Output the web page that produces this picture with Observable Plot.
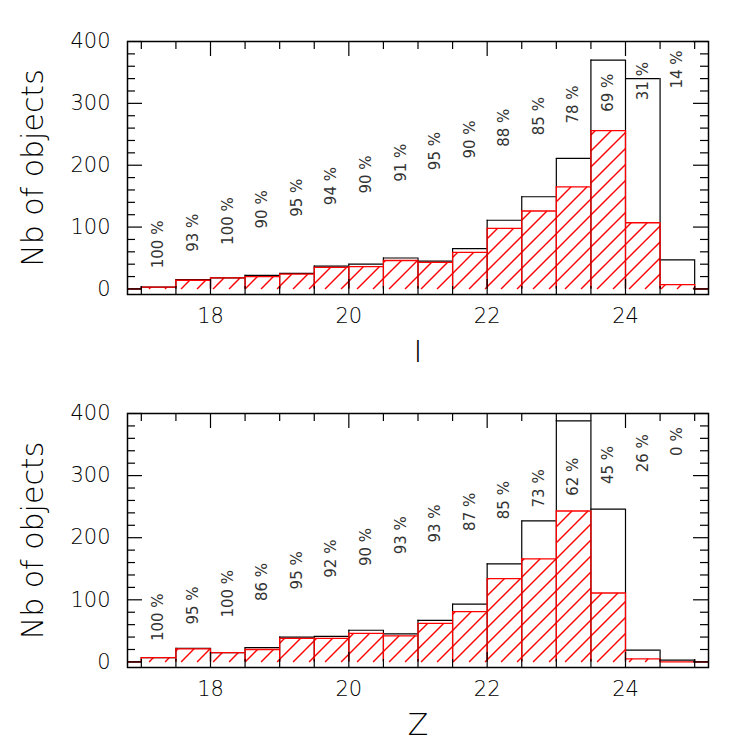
<!DOCTYPE html>
<html><head><meta charset="utf-8">
<script src="https://cdn.jsdelivr.net/npm/d3@7"></script>
<script src="https://cdn.jsdelivr.net/npm/@observablehq/plot@0.6"></script>
<style>
html,body{margin:0;padding:0;background:#fff;}
#chart{width:747px;}
#chart svg{display:block;overflow:visible}
</style></head><body>
<div id="chart"></div>
<script>
// ---- data ----
const binStart = [16.5,17,17.5,18,18.5,19,19.5,20,20.5,21,21.5,22,22.5,23,23.5,24,24.5,25];
const binWidth = 0.5;
const totalI = [0,3,15,18,22,25,37,40,50,45,65,111,149,211,370,340,47,0];
const redI   = [0,3,14,18,20,24,35,36,46,43,59,98,126,165,256,107,7,0];
const totalZ = [0,7,22,15,23,40,41,51,45,67,93,158,227,388,246,19,3,0];
const redZ   = [0,7,21,15,20,38,38,46,42,62,81,134,166,243,111,5,0,0];
const pctI = [100,93,100,90,95,94,90,91,95,90,88,85,78,69,31,14];
const pctZ = [100,95,100,86,95,92,90,93,93,87,85,73,62,45,26,0];
const xTicks = [18,20,22,24];
const xTickLabels = ["18","20","22","24"];
const yTicks = [0,100,200,300,400];
const yTickLabels = ["0","100","200","300","400"];
const yTitle = "Nb of objects";

// ---- layout ----
const W = 747, ML = 127, MR = 39;
const xDomain = [16.8, 25.2], yDomain = [-9, 400];
const FONT = "'DejaVu Sans', sans-serif";
const TXT = "#000";
const RED = "#ff0000";
const HATCH = 16;

function panel({total, red, pct, title, height, mt, mb}) {
  const plotW = W - ML - MR, plotH = height - mt - mb;
  const pxX = plotW / (xDomain[1] - xDomain[0]);
  const pxY = plotH / (yDomain[1] - yDomain[0]);
  const cx = v => Math.max(xDomain[0], Math.min(xDomain[1], v));
  const bins = binStart.map((lo, i) => ({lo, hi: lo + binWidth, total: total[i], sub: red[i]}));
  const edgesOf = key => {
    const out = [];
    for (let i = 0; i <= bins.length; i++) {
      const x = i < bins.length ? bins[i].lo : bins[i - 1].hi;
      if (x <= xDomain[0] || x >= xDomain[1]) continue;
      const a = i > 0 ? bins[i - 1][key] : 0, b = i < bins.length ? bins[i][key] : 0;
      out.push({x, top: Math.max(a, b)});
    }
    return out;
  };
  const hatch = [];
  for (const d of bins) {
    if (d.sub <= 0) continue;
    const u0 = (cx(d.lo) - xDomain[0]) * pxX, u1 = (cx(d.hi) - xDomain[0]) * pxX;
    const v0 = (0 - yDomain[0]) * pxY, v1 = (d.sub - yDomain[0]) * pxY;
    const kMin = Math.ceil((v0 - u1) / HATCH) * HATCH, kMax = Math.floor((v1 - u0) / HATCH) * HATCH;
    for (let k = kMin; k <= kMax; k += HATCH) {
      const a = Math.max(u0, v0 - k), b = Math.min(u1, v1 - k);
      if (b - a < 0.5) continue;
      hatch.push({
        x1: xDomain[0] + a / pxX, y1: yDomain[0] + (a + k) / pxY,
        x2: xDomain[0] + b / pxX, y2: yDomain[0] + (b + k) / pxY
      });
    }
  }
  const pctBins = binStart.filter(b => b >= 17 && b < 25);
  const labels = pctBins.map((b, i) => ({x: b + binWidth / 2, y: 72 + 37.7 * (b + binWidth / 2 - 17.25), t: `${pct[i]} %`}));
  const yMinor = d3.range(0, 401, 20).filter(v => v % 100 !== 0);
  const xMinor = d3.range(17, 25.01, 0.5).filter(v => !xTicks.includes(v));
  const majL = 15, minL = 8;
  const lx = majL / pxX, sx = minL / pxX, ly = majL / pxY, sy = minL / pxY;

  return Plot.plot({
    width: W, height, marginLeft: ML, marginRight: MR, marginTop: mt, marginBottom: mb,
    style: {fontFamily: FONT, background: "white", color: TXT},
    x: {domain: xDomain, axis: null},
    y: {domain: yDomain, axis: null},
    marks: [
      Plot.link(hatch, {x1: "x1", y1: "y1", x2: "x2", y2: "y2", stroke: RED, strokeWidth: 1.4}),
      Plot.ruleY(bins, {y: "total", x1: d => cx(d.lo), x2: d => cx(d.hi), stroke: "#000", strokeWidth: 1.2}),
      Plot.ruleX(edgesOf("total"), {x: "x", y1: 0, y2: "top", stroke: "#000", strokeWidth: 1.2}),
      Plot.ruleY(bins, {y: "sub", x1: d => cx(d.lo), x2: d => cx(d.hi), stroke: RED, strokeWidth: 1.3}),
      Plot.ruleX(edgesOf("sub"), {x: "x", y1: 0, y2: "top", stroke: RED, strokeWidth: 1.3}),
      Plot.text(labels, {x: "x", y: "y", text: "t", rotate: -90, fontSize: 15, fill: "#333", textAnchor: "middle", lineAnchor: "middle", letterSpacing: 0.8}),
      Plot.frame({stroke: "#000", strokeWidth: 1.5}),
      Plot.ruleY(yTicks, {y: d => d, x1: xDomain[0], x2: xDomain[0] + lx, stroke: "#000", strokeWidth: 1.2}),
      Plot.ruleY(yMinor, {y: d => d, x1: xDomain[0], x2: xDomain[0] + sx, stroke: "#000", strokeWidth: 1.2}),
      Plot.ruleY(yTicks, {y: d => d, x1: xDomain[1] - lx, x2: xDomain[1], stroke: "#000", strokeWidth: 1.2}),
      Plot.ruleY(yMinor, {y: d => d, x1: xDomain[1] - sx, x2: xDomain[1], stroke: "#000", strokeWidth: 1.2}),
      Plot.ruleX(xTicks, {x: d => d, y1: yDomain[0], y2: yDomain[0] + ly, stroke: "#000", strokeWidth: 1.2}),
      Plot.ruleX(xMinor, {x: d => d, y1: yDomain[0], y2: yDomain[0] + sy, stroke: "#000", strokeWidth: 1.2}),
      Plot.ruleX(xTicks, {x: d => d, y1: yDomain[1] - ly, y2: yDomain[1], stroke: "#000", strokeWidth: 1.2}),
      Plot.ruleX(xMinor, {x: d => d, y1: yDomain[1] - sy, y2: yDomain[1], stroke: "#000", strokeWidth: 1.2}),
      Plot.text(yTicks, {x: xDomain[0], y: d => d, text: (d, i) => yTickLabels[i], dx: -17, textAnchor: "end", lineAnchor: "middle", fontSize: 21, fontWeight: 200, fill: TXT}),
      Plot.text(xTicks, {x: d => d, y: yDomain[0], text: (d, i) => xTickLabels[i], dy: 22, textAnchor: "middle", lineAnchor: "middle", fontSize: 21, fontWeight: 200, fill: TXT}),
      Plot.text([title], {frameAnchor: "bottom", dy: 58, text: d => d, fontSize: 30, fontWeight: 200, fill: TXT, lineAnchor: "middle"}),
      Plot.text([yTitle], {frameAnchor: "left", dx: -94, rotate: -90, text: d => d, fontSize: 30, fontWeight: 200, fill: TXT, lineAnchor: "middle", textAnchor: "middle", letterSpacing: 1.2})
    ]
  });
}

const chart = document.getElementById("chart");
const topBox = document.createElement("div");
const bottomBox = document.createElement("div");
chart.appendChild(topBox);
chart.appendChild(bottomBox);
topBox.appendChild(panel({total: totalI, red: redI, pct: pctI, title: "I", height: 373, mt: 41, mb: 79}));
bottomBox.appendChild(panel({total: totalZ, red: redZ, pct: pctZ, title: "Z", height: 374, mt: 40, mb: 80}));
</script>
</body></html>
